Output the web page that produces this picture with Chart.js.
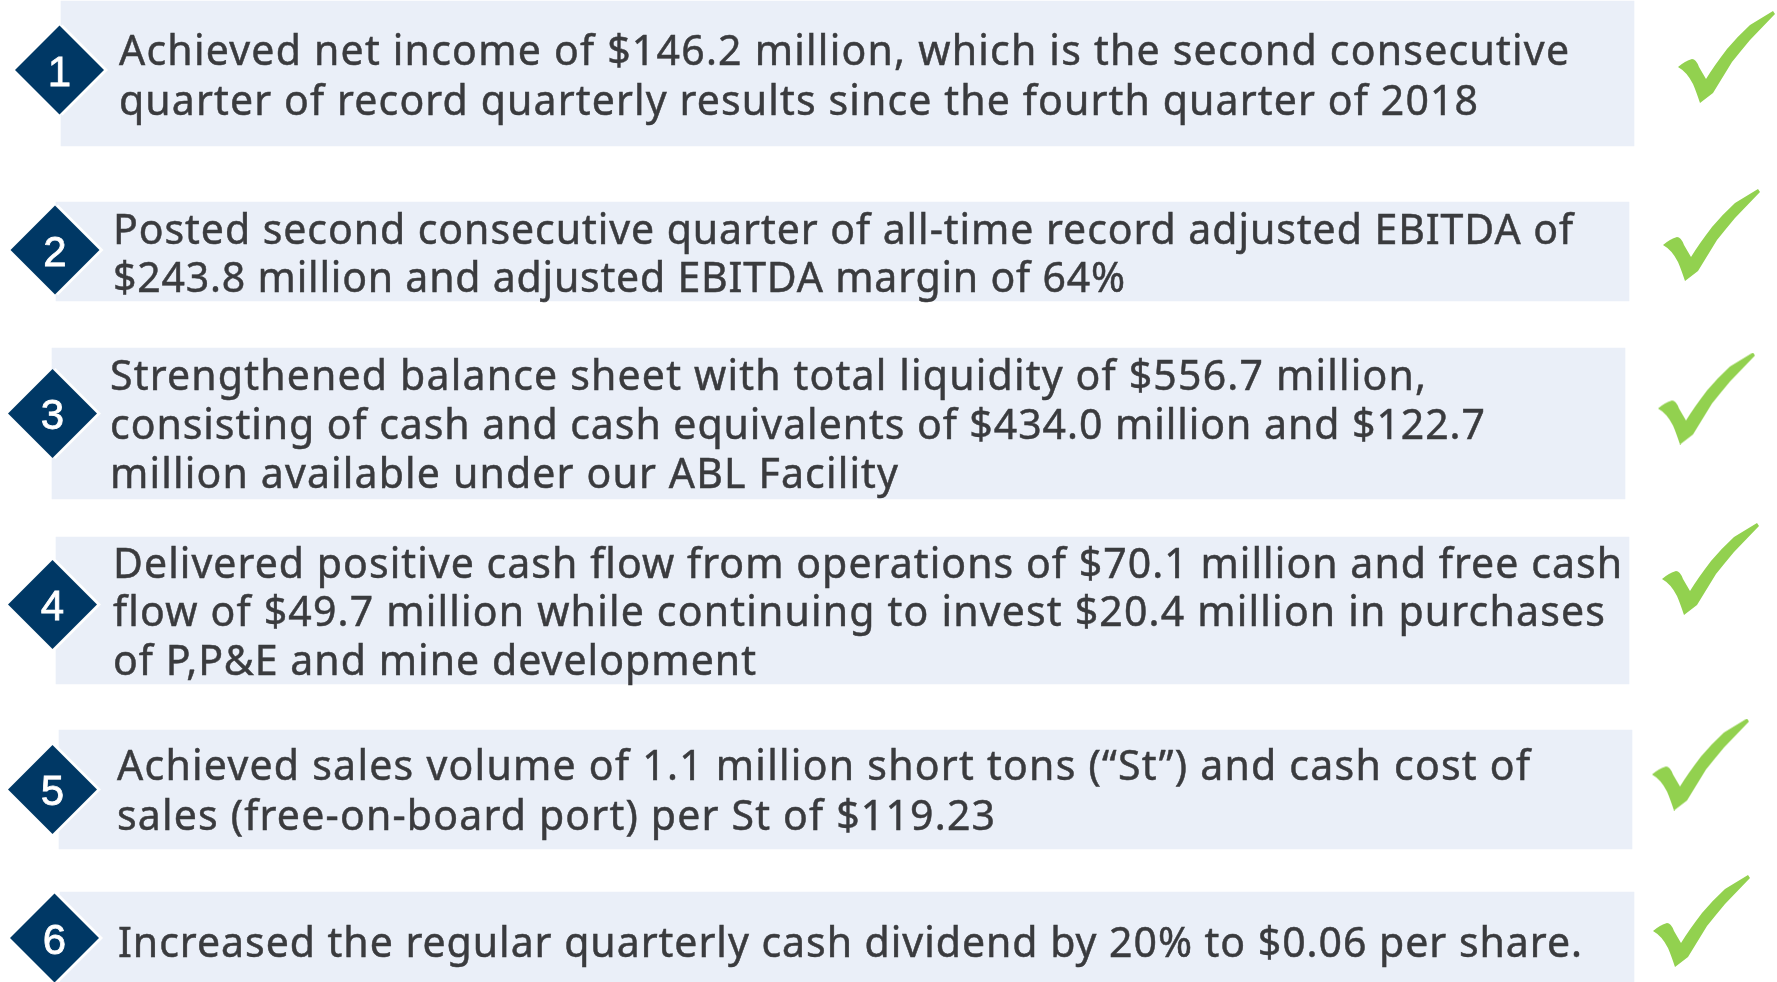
<!DOCTYPE html>
<html>
<head>
<meta charset="utf-8">
<title>Highlights</title>
<style>html,body{margin:0;padding:0;background:#fff}canvas{display:block}</style>
<script src="https://cdn.jsdelivr.net/npm/chart.js@4"></script>
</head>
<body>
<canvas id="c" width="1777" height="982"></canvas>
<script>
const itemNumbers = ["1","2","3","4","5","6"];
const itemLines = [
  ["Achieved net income of $146.2 million, which is the second consecutive","quarter of record quarterly results since the fourth quarter of 2018"],
  ["Posted second consecutive quarter of all-time record adjusted EBITDA of","$243.8 million and adjusted EBITDA margin of 64%"],
  ["Strengthened balance sheet with total liquidity of $556.7 million,","consisting of cash and cash equivalents of $434.0 million and $122.7","million available under our ABL Facility"],
  ["Delivered positive cash flow from operations of $70.1 million and free cash","flow of $49.7 million while continuing to invest $20.4 million in purchases","of P,P&E and mine development"],
  ["Achieved sales volume of 1.1 million short tons (“St”) and cash cost of","sales (free-on-board port) per St of $119.23"],
  ["Increased the regular quarterly cash dividend by 20% to $0.06 per share."]
];
const panelLeft   = [61,56,52,56,59,60];
const panelRight  = [1634,1629,1625,1629,1632,1634];
const panelTop    = [1,202,348,537,730,892];
const panelBottom = [146,301,499,684,849,982];
const diamondX = [59.5,55,52.5,52.5,52.5,54.5];
const diamondY = [70,250,413.5,604.5,789.5,938];
const checkX = [1726.5,1711.5,1706.5,1710.5,1700.5,1701.5];
const checkY = [57,235,398.5,569,764.5,921];
const textX = [119,113,110,113,117,118];
const textBaselines = [[64.5,114.5],[243.5,291.5],[390,438.5,487.5],[578,626,675],[780,829.5],[956.5]];
const textRight = [[1569,1478],[1573,1125],[1426,1485,898],[1622,1605,756],[1530,995],[1582]];

const TEXT_FONT = '400 41px "Noto Sans"';
const NUM_FONT = '400 42px "Liberation Sans"';

function makeCheck(){
  const cv = document.createElement('canvas');
  cv.width = 97; cv.height = 92;
  const g = cv.getContext('2d');
  g.fillStyle = '#92d14f';
  g.beginPath();
  g.moveTo(0,56);
  g.quadraticCurveTo(7,50,14,48);
  g.quadraticCurveTo(18,48,21,56);
  g.lineTo(28,68);
  g.quadraticCurveTo(36,55,49,38);
  g.quadraticCurveTo(60,25,72,14);
  g.lineTo(95,0);
  g.lineTo(97,3);
  g.lineTo(72,29);
  g.quadraticCurveTo(62,41,54,51);
  g.lineTo(35,82);
  g.lineTo(22,92);
  g.quadraticCurveTo(18,80,15,73);
  g.quadraticCurveTo(9,61,0,56);
  g.closePath();
  g.fill();
  return cv;
}

const panelDatasets = itemNumbers.map((n,i)=>({
  type:'bar',
  label:'Panel '+n,
  indexAxis:'y',
  grouped:false,
  barThickness:panelBottom[i]-panelTop[i],
  backgroundColor:'#eaeff8',
  borderWidth:0,
  order:10,
  data:[{y:(panelTop[i]+panelBottom[i])/2,x:[panelLeft[i],panelRight[i]]}]
}));

const textPlugin = {
  id:'textPlugin',
  afterDatasetsDraw(chart){
    const {ctx,scales:{x,y}} = chart;
    ctx.save();
    ctx.textBaseline = 'alphabetic';
    ctx.fillStyle = '#3a3b3e';
    ctx.strokeStyle = '#3a3b3e';
    ctx.lineWidth = 0.5;
    ctx.font = TEXT_FONT;
    ctx.textAlign = 'left';
    itemLines.forEach((lines,i)=>{
      lines.forEach((line,j)=>{
        ctx.letterSpacing = '0px';
        const natural = ctx.measureText(line).width;
        const target = textRight[i][j]-textX[i];
        ctx.letterSpacing = ((target-natural)/(line.length-1)).toFixed(3)+'px';
        const px = x.getPixelForValue(textX[i]), py = y.getPixelForValue(textBaselines[i][j]);
        ctx.fillText(line,px,py);
        ctx.strokeText(line,px,py);
      });
    });
    ctx.letterSpacing = '0px';
    ctx.fillStyle = '#ffffff';
    ctx.strokeStyle = '#ffffff';
    ctx.lineWidth = 0.8;
    ctx.font = NUM_FONT;
    ctx.textAlign = 'center';
    itemNumbers.forEach((n,i)=>{
      const px = x.getPixelForValue(diamondX[i]), py = y.getPixelForValue(diamondY[i]+15.5);
      ctx.fillText(n,px,py);
      ctx.strokeText(n,px,py);
    });
    ctx.restore();
  }
};

new Chart(document.getElementById('c'),{
  data:{datasets:[
    ...panelDatasets,
    {type:'scatter',label:'Halo',order:5,pointStyle:'rectRot',pointRadius:45.5,pointBorderWidth:0,pointBackgroundColor:'#ffffff',
      data:diamondX.map((v,i)=>({x:v+3,y:diamondY[i]}))},
    {type:'scatter',label:'Number',order:4,pointStyle:'rectRot',pointRadius:44.5,pointBorderWidth:0,pointBackgroundColor:'#003865',
      data:diamondX.map((v,i)=>({x:v,y:diamondY[i]}))},
    {type:'scatter',label:'Check',order:4,pointStyle:makeCheck(),pointRadius:40,pointBorderWidth:0,
      data:checkX.map((v,i)=>({x:v,y:checkY[i]}))}
  ]},
  options:{
    responsive:false,
    animation:false,
    events:[],
    layout:{padding:0,autoPadding:false},
    plugins:{legend:{display:false},tooltip:{enabled:false},title:{display:false}},
    scales:{
      x:{type:'linear',min:0,max:1777,offset:false,display:false},
      y:{type:'linear',min:0,max:982,reverse:true,offset:false,display:false}
    }
  },
  plugins:[textPlugin]
});
</script>
</body>
</html>
